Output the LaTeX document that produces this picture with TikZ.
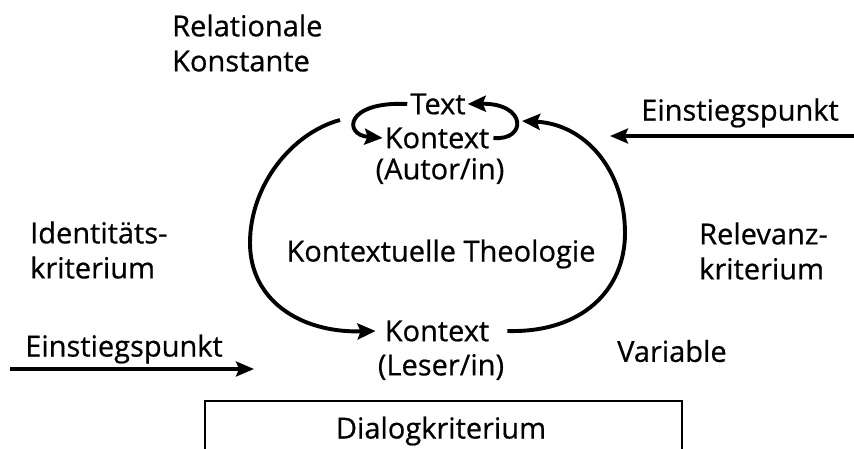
\documentclass[tikz,border=0pt]{standalone}
\usepackage{fontspec}
\setmainfont{Open Sans}[FakeBold=0.6]
\newfontfamily\dfont{Open Sans}[FakeBold=0.6]
\usetikzlibrary{arrows.meta}
\begin{document}
\begin{tikzpicture}[x=1pt,y=-1pt,
  lbl/.style={inner sep=0pt,font=\dfont\fontsize{29}{35}\selectfont},
  ml/.style={lbl,align=left,anchor=west,font=\dfont\fontsize{29}{35}\selectfont},
  arc/.style={line width=3.9pt,-{Stealth[length=18pt,width=16pt,inset=3pt]}},
  entry/.style={line width=3.1pt,-{Stealth[length=18pt,width=15pt,inset=3pt]}}]
\useasboundingbox (0,0) rectangle (854,449);
\node[ml] (rk) at (172,43) {Relationale\\Konstante};
\node[lbl] (text) at (438,104) {Text};
\node[lbl] (kta) at (437,138) {Kontext};
\node[lbl] (autor) at (440,171) {(Autor/in)};
\node[lbl] (kt) at (441,254) {Kontextuelle Theologie};
\node[lbl] (ktb) at (437,331) {Kontext};
\node[lbl] (leser) at (441,367) {(Leser/in)};
\node[ml] (id) at (30,250) {Identitäts-\\kriterium};
\node[ml] (rel) at (699,251) {Relevanz-\\kriterium};
\node[lbl,anchor=west] (var) at (617,351) {Variable};
\node[lbl] (ein1) at (740,113) {Einstiegspunkt};
\node[lbl] (ein2) at (124,349) {Einstiegspunkt};
\node[lbl] (dia) at (441,431) {Dialogkriterium};
% box
\draw[line width=2.8pt] (205,460) |- (682,401) -- (682,460);
% small loops
\draw[arc] ([xshift=-3pt]text.west) .. controls (345,101) and (343,135) .. ([xshift=-2pt]kta.west);
\draw[arc] ([xshift=4pt]kta.east) .. controls (527,141) and (527,103) .. ([xshift=2pt]text.east);
% big arcs
\coordinate (la) at (340,120);
\coordinate (ra) at (522,121);
\draw[arc] (la) .. controls (292,133) and (250,185) .. (250,243) .. controls (250,300) and (300,333) .. ([xshift=-9pt]ktb.west);
\draw[arc] ([xshift=18pt]ktb.east) .. controls (582,333) and (625,290) .. (625,233) .. controls (625,170) and (585,124) .. (ra);
% entry arrows
\coordinate (e1s) at (856,136);
\coordinate (e1t) at (610,136);
\draw[entry] (e1s) -- (e1t);
\coordinate (e2s) at (10,369);
\coordinate (e2t) at (254,369);
\draw[entry] (e2s) -- (e2t);
\end{tikzpicture}
\end{document}
